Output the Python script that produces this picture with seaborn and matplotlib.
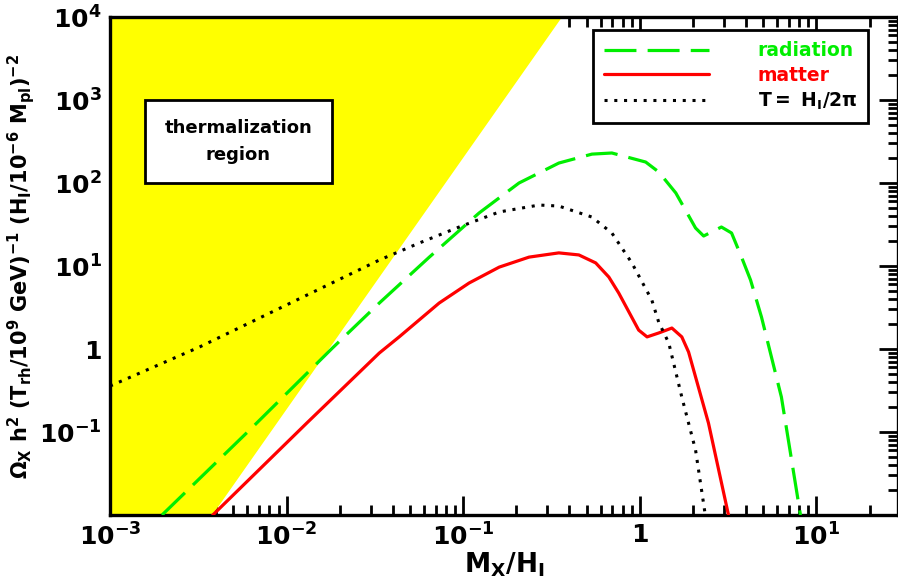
import pandas as pd
import matplotlib
matplotlib.use('Agg')
import matplotlib.pyplot as plt
import seaborn as sns
from matplotlib.patches import Rectangle
from matplotlib.ticker import LogLocator, NullFormatter

# datos (M_X/H_I , Omega)
rad_x = [0.00197, 0.00643, 0.0182, 0.0335, 0.0643, 0.123, 0.207, 0.348, 0.536,
         0.695, 1.08, 1.28, 1.60, 2.07, 2.30, 2.90, 3.31, 3.77, 4.24, 4.89, 6.34, 8.13]
rad_y = [0.01, 0.115, 1.03, 3.58, 12.8, 43.5, 100, 174, 223,
         230, 179, 136, 75.9, 28.7, 23.0, 29.5, 25.0, 12.8, 6.78, 2.43, 0.264, 0.01]

mat_x = [0.00382, 0.0130, 0.0335, 0.0434, 0.0731, 0.108, 0.160, 0.236, 0.348,
         0.452, 0.563, 0.668, 0.760, 0.986, 1.10, 1.28, 1.52, 1.73, 1.89, 2.45, 3.18]
mat_y = [0.01, 0.128, 0.895, 1.40, 3.58, 6.24, 9.7, 12.8, 14.4,
         13.6, 10.9, 7.37, 4.73, 1.69, 1.40, 1.56, 1.79, 1.40, 0.92, 0.128, 0.01]

temp_x = [0.001, 0.00322, 0.0114, 0.0335, 0.0563, 0.0948, 0.160, 0.269, 0.348,
          0.536, 0.695, 0.902, 1.17, 1.28, 1.46, 1.73, 2.07, 2.35]
temp_y = [0.358, 1.06, 3.89, 11.8, 18.9, 29.5, 44.8, 54.3, 52.8,
          38.9, 25.0, 10.9, 3.89, 2.11, 1.18, 0.264, 0.0607, 0.01]

# region de termalizacion (vertices)
therm_x = [0.001, 0.0038, 0.363, 0.001]
therm_y = [0.01, 0.01, 1e4, 1e4]

xticks = [1e-3, 1e-2, 1e-1, 1, 10]
xtick_labels = ['$10^{-3}$', '$10^{-2}$', '$10^{-1}$', '1', '$10^{1}$']
yticks = [1e-1, 1, 10, 100, 1e3, 1e4]
ytick_labels = ['$10^{-1}$', '1', '$10^{1}$', '$10^{2}$', '$10^{3}$', '$10^{4}$']

sns.set_style("ticks")
plt.rcParams['font.family'] = ['DejaVu Sans']
plt.rcParams['font.weight'] = 'bold'
plt.rcParams['mathtext.fontset'] = 'dejavusans'
plt.rcParams['mathtext.default'] = 'bf'
for k in ['text.color', 'axes.labelcolor', 'xtick.color', 'ytick.color']:
    plt.rcParams[k] = 'black'

fig = plt.figure(figsize=(8.98, 5.79), dpi=100)
ax = fig.add_axes([0.1225, 0.1105, 0.8775, 0.8601])

ax.fill(therm_x, therm_y, color='#ffff00', lw=0, zorder=1)

rad = pd.DataFrame({'x': rad_x, 'y': rad_y})
mat = pd.DataFrame({'x': mat_x, 'y': mat_y})
temp = pd.DataFrame({'x': temp_x, 'y': temp_y})

sns.lineplot(data=rad, x='x', y='y', ax=ax, color='#00ee00', lw=2.3, sort=False,
             linestyle=(0, (10, 3.5)), label='radiation', zorder=3)
sns.lineplot(data=mat, x='x', y='y', ax=ax, color='#ff0000', lw=2.3, sort=False,
             label='matter', zorder=3)
sns.lineplot(data=temp, x='x', y='y', ax=ax, color='black', lw=2.2, sort=False,
             linestyle=(0, (1, 2.2)), label=r'$T=\ H_I/2\pi$', zorder=3)

ax.set_xscale('log')
ax.set_yscale('log')
ax.set_xlim(1e-3, 29)
ax.set_ylim(1e-2, 1e4)

ax.set_xticks(xticks, labels=xtick_labels)
ax.set_yticks(yticks, labels=ytick_labels)
ax.xaxis.set_minor_locator(LogLocator(base=10, subs=range(2, 10), numticks=20))
ax.yaxis.set_minor_locator(LogLocator(base=10, subs=range(2, 10), numticks=20))
ax.xaxis.set_minor_formatter(NullFormatter())
ax.yaxis.set_minor_formatter(NullFormatter())
ax.tick_params(which='both', direction='in', top=True, right=True,
               labelsize=18, width=2)
ax.tick_params(which='major', length=14, pad=6)
ax.tick_params(which='minor', length=7)
for s in ax.spines.values():
    s.set_linewidth(2.4)
    s.set_color('black')

ax.set_xlabel(r'$M_X/H_I$', fontsize=19, labelpad=0)
ax.set_ylabel(r'$\Omega_X\ h^2\ (T_{rh}/10^9\ GeV)^{-1}\ (H_I/10^{-6}\ M_{pl})^{-2}$',
              fontsize=15)
ax.yaxis.set_label_coords(-0.093, 0.5)

# caja de texto
ax.add_patch(Rectangle((0.0444, 0.667), 0.237, 0.1667, transform=ax.transAxes,
                       facecolor='white', edgecolor='black', lw=2, zorder=4))
ax.text(0.163, 0.75, 'thermalization\nregion', transform=ax.transAxes,
        ha='center', va='center', fontsize=13, fontweight='bold',
        linespacing=1.6, zorder=5)

leg = ax.legend(loc='upper right', bbox_to_anchor=(0.962, 0.974), borderaxespad=0,
                fontsize=13.5, handlelength=5.6, handletextpad=2.6, borderpad=0.6,
                labelspacing=0.3, fancybox=False, framealpha=1, edgecolor='black',
                labelcolor=['#00ee00', '#ff0000', 'black'])
leg.get_frame().set_linewidth(2)
leg.set_zorder(6)

plt.savefig('out.png', dpi=100)
plt.close()
